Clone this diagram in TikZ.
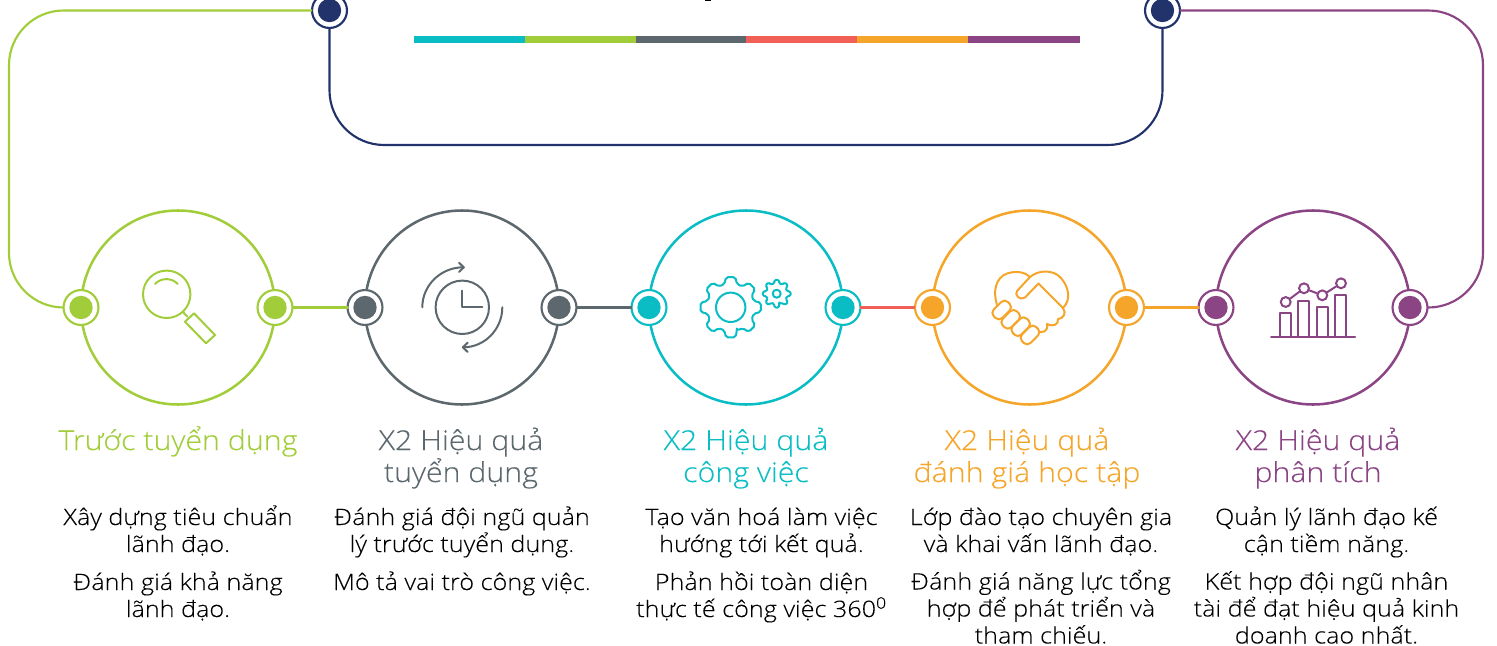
\documentclass[tikz,border=0pt]{standalone}
\usepackage{fontspec}
\setmainfont[FakeStretch=1.11,FakeBold=0.15]{Open Sans Light}
\definecolor{cgreen}{HTML}{A2CD3A}
\definecolor{cgray}{HTML}{5C686D}
\definecolor{cteal}{HTML}{0ABDC4}
\definecolor{ccoral}{HTML}{F15F57}
\definecolor{corange}{HTML}{F5A52A}
\definecolor{cpurple}{HTML}{8B4484}
\definecolor{cnavy}{HTML}{22336B}
\tikzset{
  bigring/.style={circle,draw=#1,line width=1.9pt,minimum size=145.5pt,inner sep=0pt,outer sep=0pt},
  port/.style={circle,draw=#1,fill=white,line width=1.6pt,minimum size=26.2pt,inner sep=0pt,outer sep=0pt},
  portdot/.style={circle,fill=#1,minimum size=17.5pt,inner sep=0pt},
  link/.style={line width=2.2pt,draw=#1},
  loopline/.style={line width=1.6pt,draw=#1,rounded corners=41pt},
  icon/.style={line width=1.5pt,draw=#1,line cap=round,line join=round},
  headtext/.style={text=#1,font=\fontsize{20.5}{24}\selectfont,align=center,anchor=base},
  bodytext/.style={text=black,font=\fontsize{17}{20.25}\selectfont,align=center,anchor=base},
}
\newcommand{\gearshape}[5]{%
  \draw[icon=#1] (0,0) ++({90-#4}:#2)
    \foreach \i in {0,...,7} { -- ({90+45*\i-#4}:#2) -- ({90+45*\i-#5}:#3) -- ({90+45*\i+#5}:#3) -- ({90+45*\i+#4}:#2) } -- cycle;}
\begin{document}
\begin{tikzpicture}[x=0.75pt,y=-0.75pt]
\useasboundingbox (0,0) rectangle (1497,646);
\clip (0,0) rectangle (1497,646);
% rings
\node[bigring=cgreen] (r1) at (178,307.5) {};
\node[bigring=cgray] (r2) at (462,307.5) {};
\node[bigring=cteal] (r3) at (746,307.5) {};
\node[bigring=corange] (r4) at (1029.5,307.5) {};
\node[bigring=cpurple] (r5) at (1313,307.5) {};
% ports
\foreach \n/\c in {1/cgreen,2/cgray,3/cteal,4/corange,5/cpurple}{
  \node[port=\c] (p\n w) at (r\n.west) {};
  \node[port=\c] (p\n e) at (r\n.east) {};
  \node[portdot=\c] (d\n w) at (p\n w) {};
  \node[portdot=\c] (d\n e) at (p\n e) {};
}
\node[port=cnavy] (tl) at (329.5,10.5) {};
\node[port=cnavy] (tr) at (1162.5,10.5) {};
\node[portdot=cnavy] (tld) at (tl) {};
\node[portdot=cnavy] (trd) at (tr) {};
% links
\draw[link=cgreen] (p1e) -- (p2w);
\draw[link=cgray] (p2e) -- (p3w);
\draw[link=ccoral] (p3e) -- (p4w);
\draw[link=corange] (p4e) -- (p5w);
\coordinate (lt) at (9,10.5);
\coordinate (lb) at (9,307.5);
\coordinate (rt) at (1483,10.5);
\coordinate (rb) at (1483,307.5);
\coordinate (nl) at (329.5,145);
\coordinate (nr) at (1162.5,145);
\draw[loopline=cgreen] (tl.west) -- (lt) -- (lb) -- (p1w.west);
\draw[loopline=cpurple] (tr.east) -- (rt) -- (rb) -- (p5e.east);
\draw[loopline=cnavy] (tl.south) -- (nl) -- (nr) -- (tr.south);
% colour bar
\fill[cteal] (414,36) rectangle (525,43);
\fill[cgreen] (525,36) rectangle (636,43);
\fill[cgray] (636,36) rectangle (746,43);
\fill[ccoral] (746,36) rectangle (857,43);
\fill[corange] (857,36) rectangle (968,43);
\fill[cpurple] (968,36) rectangle (1080,43);
\fill[black] (705,0) rectangle (711,1.2);
% magnifier
\draw[icon=cgreen] (166.7,294.3) circle (23.7);
\draw[icon=cgreen] (155,284) .. controls (161,277.5) and (172,277.5) .. (177.7,284);
\draw[icon=cgreen] (182.7,311.7) -- (187.3,316.7);
\draw[icon=cgreen] (185,321.7) -- (194,313.3) -- (215,335) -- (206,343.3) -- cycle;
% clock
\draw[icon=cgray] (462.3,307.3) circle (26.7);
\draw[icon=cgray] (462.3,290.7) -- (462.3,307.3) -- (482.3,307.3);
\draw[icon=cgray] (422.3,307.3) .. controls (422.3,285) and (441,267.3) .. (463.3,267.3);
\draw[icon=cgray] (459,262.7) -- (463.8,267.3) -- (459,272);
\draw[icon=cgray] (502.3,307.3) .. controls (502.3,329.5) and (484.5,347.3) .. (463.3,347.3);
\draw[icon=cgray] (467.7,342.7) -- (462.8,347.3) -- (467.7,352);
% gears
\begin{scope}[shift={(730.7,307.3)},rounded corners=1.5pt]
\gearshape{cteal}{24}{30.5}{15}{9}
\draw[icon=cteal] (0,0) circle (14.7);
\end{scope}
\begin{scope}[shift={(776.7,293.7)},rounded corners=1pt]
\gearshape{cteal}{10.5}{14}{14}{9}
\draw[icon=cteal] (0,0) circle (4);
\end{scope}
% handshake
\draw[icon=corange] (997,305) .. controls (993,292) and (995,278) .. (1007,273.5) .. controls (1018,270) and (1026,273) .. (1030,277)
  .. controls (1038,270) and (1053,269) .. (1061,278) .. controls (1068,286) and (1072,299) .. (1063,308);
\draw[icon=corange] (1030,277) -- (1017,291) .. controls (1014,295) and (1020,301) .. (1025,297.5) -- (1038.5,283.5) -- (1063,308)
  .. controls (1067,313) and (1063,319) .. (1058,319) .. controls (1059,325) and (1052,327) .. (1047,324)
  .. controls (1049,331) and (1042,334) .. (1037,331) .. controls (1038,338) and (1032,342) .. (1029,341);
\foreach \x/\y in {1001.7/310,1010.7/319.3,1020.7/326.7,1030/335}
  \draw[icon=corange,fill=white,rounded corners=3.5pt,shift={(\x,\y)},rotate=45] (-10,-6) rectangle (10,6);
% chart
\draw[icon=cpurple] (1271,336.7) -- (1355,336.7);
\draw[icon=cpurple,line cap=butt] (1280,336.7) -- (1280,313.3) -- (1291,313.3) -- (1291,336.7);
\draw[icon=cpurple,line cap=butt] (1298.3,336.7) -- (1298.3,300.7) -- (1309.3,300.7) -- (1309.3,336.7);
\draw[icon=cpurple,line cap=butt] (1316.7,336.7) -- (1316.7,306.7) -- (1327.7,306.7) -- (1327.7,336.7);
\draw[icon=cpurple,line cap=butt] (1335,336.7) -- (1335,295) -- (1346,295) -- (1346,336.7);
\foreach \n/\x/\y in {a/1285.7/302,b/1304/288.3,c/1322.3/295.3,d/1341/283.3}
  \node[circle,draw=cpurple,line width=1.5pt,minimum size=7.4pt,inner sep=0pt] (c\n) at (\x,\y) {};
\draw[icon=cpurple] (ca) -- (cb);
\draw[icon=cpurple] (cb) -- (cc);
\draw[icon=cpurple] (cc) -- (cd);
% headings
\node[headtext=cgreen] (h1) at (178,450) {Trước tuyển dụng};
\node[headtext=cgray] (h2) at (461,482) {X2 Hiệu quả\\tuyển dụng};
\node[headtext=cteal] (h3) at (746,482) {X2 Hiệu quả\\công việc};
\node[headtext=corange] (h4) at (1027,482) {X2 Hiệu quả\\đánh giá học tập};
\node[headtext=cpurple] (h5) at (1318,482) {X2 Hiệu quả\\phân tích};
% body
\node[bodytext] (b1a) at (178,552) {Xây dựng tiêu chuẩn\\lãnh đạo.};
\node[bodytext] (b1b) at (178,617) {Đánh giá khả năng\\lãnh đạo.};
\node[bodytext] (b2a) at (462,552) {Đánh giá đội ngũ quản\\lý trước tuyển dụng.};
\node[bodytext] (b2b) at (462,590) {Mô tả vai trò công việc.};
\node[bodytext] (b3a) at (761.5,552) {Tạo văn hoá làm việc\\hướng tới kết quả.};
\node[bodytext] (b3b) at (761.5,617) {Phản hồi toàn diện\\thực tế công việc 360\textsuperscript{0}};
\node[bodytext] (b4a) at (1041,552) {Lớp đào tạo chuyên gia\\và khai vấn lãnh đạo.};
\node[bodytext] (b4b) at (1041,643.5) {Đánh giá năng lực tổng\\hợp để phát triển và\\tham chiếu.};
\node[bodytext] (b5a) at (1326.5,552) {Quản lý lãnh đạo kế\\cận tiềm năng.};
\node[bodytext] (b5b) at (1326.5,643.5) {Kết hợp đội ngũ nhân\\tài để đạt hiệu quả kinh\\doanh cao nhất.};
\end{tikzpicture}
\end{document}
